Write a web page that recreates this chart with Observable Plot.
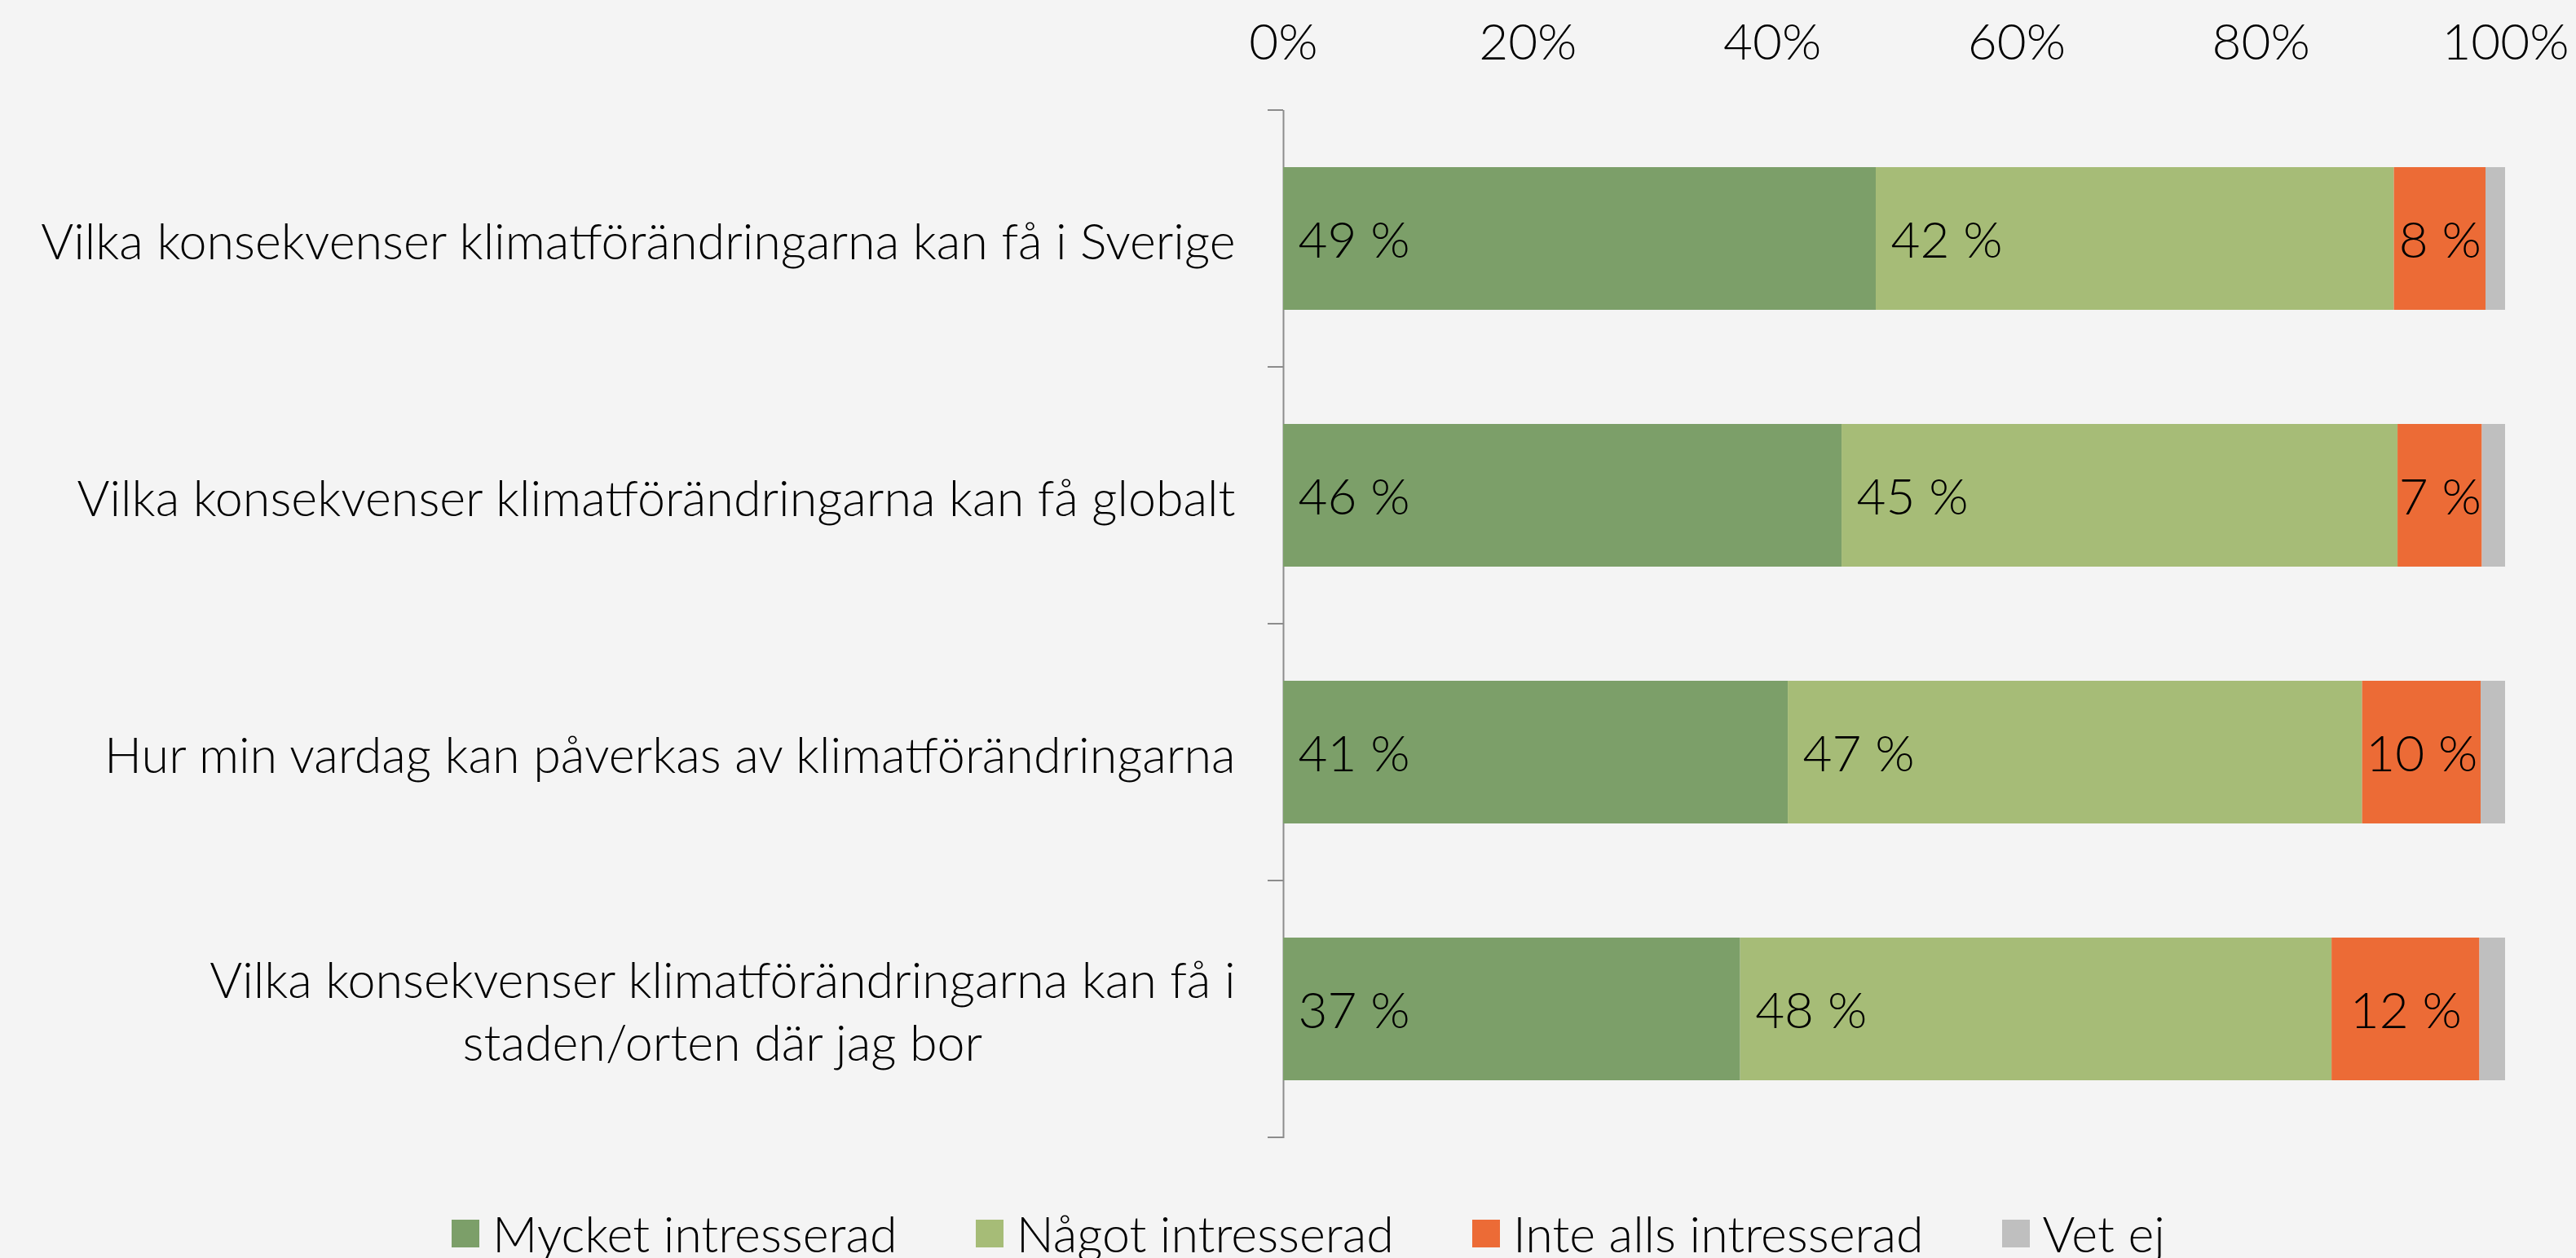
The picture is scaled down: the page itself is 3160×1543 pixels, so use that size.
<!DOCTYPE html>
<html><head><meta charset="utf-8">
<script src="https://cdn.jsdelivr.net/npm/d3@7"></script>
<script src="https://cdn.jsdelivr.net/npm/@observablehq/plot@0.6"></script>
<style>
html,body{margin:0;padding:0;background:#f4f4f4;width:3160px;height:1543px;overflow:hidden;}
#chart svg{display:block;}
#legend{display:flex;justify-content:center;align-items:center;height:60px;margin-top:23px;padding-left:50px;
  font-family:Lato,"Open Sans",sans-serif;font-weight:300;font-size:61px;line-height:60px;color:#000;white-space:nowrap;}
.item{display:flex;align-items:center;margin:0 48px;}
.sw{width:34px;height:34px;margin-right:16px;flex:none;}
</style></head><body>
<div id="chart"></div><div id="legend"></div>
<script>
const categories = [
  "Vilka konsekvenser klimatförändringarna kan få i Sverige",
  "Vilka konsekvenser klimatförändringarna kan få globalt",
  "Hur min vardag kan påverkas av klimatförändringarna",
  "Vilka konsekvenser klimatförändringarna kan få i\nstaden/orten där jag bor"
];
const series = ["Mycket intresserad", "Något intresserad", "Inte alls intresserad", "Vet ej"];
const colors = ["#7c9f69", "#a6bc77", "#ec6b36", "#bfbfbf"];
const mycket = [48.5, 45.7, 41.3, 37.4];
const nagot = [42.4, 45.5, 47.0, 48.4];
const inteAlls = [7.5, 6.9, 9.7, 12.1];
const vetEj = [1.6, 1.9, 2.0, 2.1];
const mycketLabels = [49, 46, 41, 37];
const nagotLabels = [42, 45, 47, 48];
const inteAllsLabels = [8, 7, 10, 12];
const xTicks = [0, 20, 40, 60, 80, 100];

const valueArrays = [mycket, nagot, inteAlls, vetEj];
const labelArrays = [mycketLabels, nagotLabels, inteAllsLabels, null];
const data = categories.flatMap((c, i) => series.map((s, k) => ({
  cat: c, series: s, value: valueArrays[k][i], label: labelArrays[k] ? labelArrays[k][i] : null
})));

const FONT = "Lato, 'Open Sans', sans-serif";
const FS = 62;
const FSY = 61;

function bandTicks(index, scales, values, dims) {
  const y = scales.y;
  const step = y(categories[1]) - y(categories[0]);
  const bw = typeof y.bandwidth === "function" ? y.bandwidth() : step * (1 - 0.444);
  const half = (step - bw) / 2;
  const ys = categories.map(c => y(c) - half);
  ys.push(y(categories[categories.length - 1]) + bw + half);
  const g = d3.create("svg:g");
  const x0 = dims.marginLeft;
  g.selectAll("line").data(ys).join("line")
    .attr("x1", x0 - 19).attr("x2", x0).attr("y1", d => d).attr("y2", d => d)
    .attr("stroke", "#8c8c8c").attr("stroke-width", 2);
  return g.node();
}

const plot = Plot.plot({
  width: 3160, height: 1460,
  marginLeft: 1574, marginRight: 87, marginTop: 135, marginBottom: 64,
  style: {background: "#f4f4f4", fontFamily: FONT, fontSize: FS + "px", fontWeight: 300, color: "#000"},
  x: {domain: [0, 100]},
  y: {domain: categories, paddingInner: 0.444, paddingOuter: 0.222},
  color: {domain: series, range: colors},
  marks: [
    Plot.axisX({anchor: "top", label: null, ticks: xTicks, tickFormat: d => d + "%", tickSize: 0, tickPadding: 63, fontSize: FS}),
    Plot.axisY({anchor: "left", label: null, tickSize: 0, tickPadding: 59, lineHeight: 1.26, fontSize: FSY}),
    Plot.ruleX([0], {stroke: "#8c8c8c", strokeWidth: 2}),
    bandTicks,
    Plot.barX(data, {x: "value", y: "cat", fill: "series", order: series}),
    Plot.text(data, Plot.stackX1({
      x: "value", y: "cat", z: "series", order: series,
      text: d => (d.series === series[0] || d.series === series[1]) ? `${d.label} %` : null,
      textAnchor: "start", dx: 18, dy: 3, fontSize: FS, fill: "#000"
    })),
    Plot.text(data, Plot.stackX({
      x: "value", y: "cat", z: "series", order: series,
      text: d => d.series === series[2] ? `${d.label} %` : null,
      textAnchor: "middle", dy: 3, fontSize: FS, fill: "#000"
    }))
  ]
});
document.getElementById("chart").appendChild(plot);

// center-align lines of multi-line y labels
plot.querySelectorAll('g[aria-label="y-axis tick label"] text').forEach(t => {
  const spans = t.querySelectorAll("tspan");
  if (spans.length > 1) {
    let maxW = 0;
    spans.forEach(s => { maxW = Math.max(maxW, s.getComputedTextLength()); });
    t.setAttribute("text-anchor", "middle");
    spans.forEach(s => s.setAttribute("x", -maxW / 2));
  }
});

const legend = d3.select("#legend");
series.forEach((s, k) => {
  const item = legend.append("div").attr("class", "item");
  item.append("div").attr("class", "sw").style("background", colors[k]);
  item.append("span").text(s);
});
</script>
</body></html>
